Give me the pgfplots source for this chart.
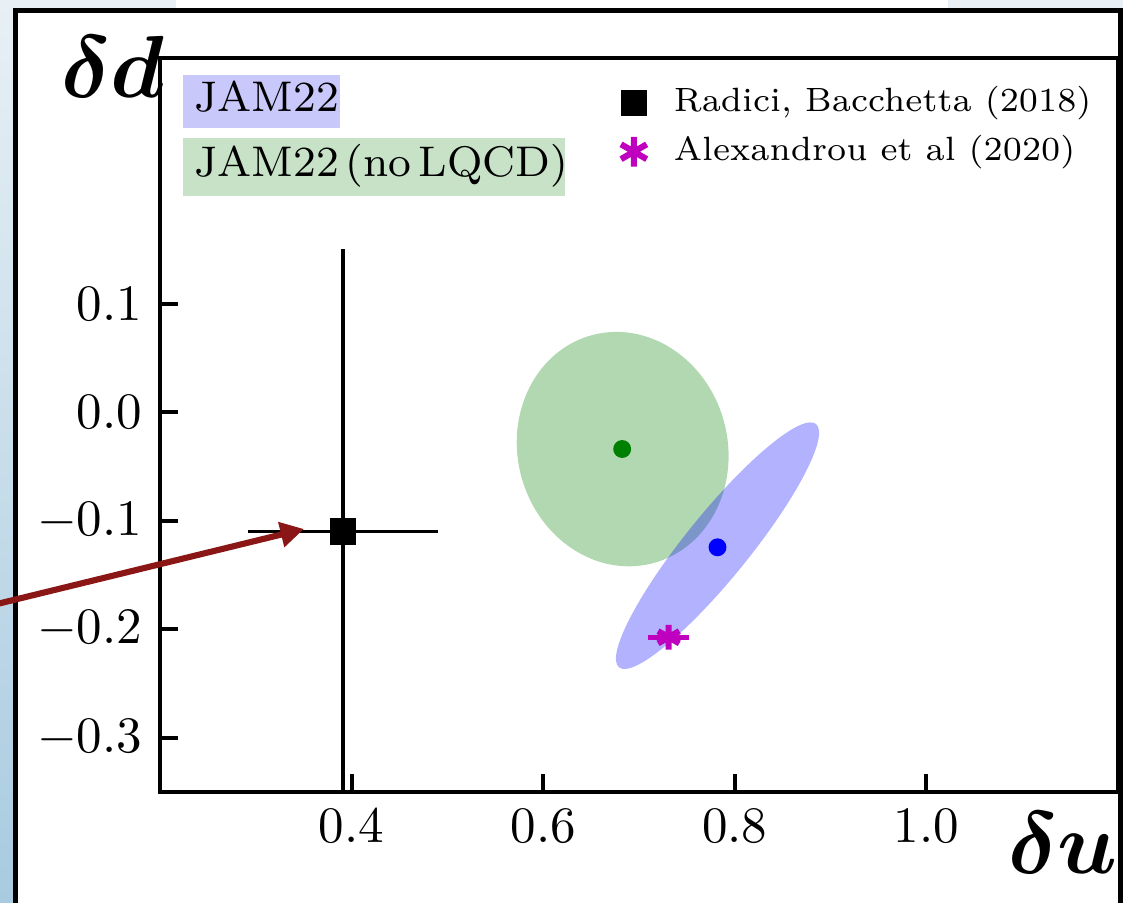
\documentclass[border=0pt]{standalone}
\usepackage{pgfplots}
\usepackage{bm}
\pgfplotsset{compat=1.18}
\usetikzlibrary{arrows.meta}

\definecolor{mplgreen}{RGB}{0,128,0}
\definecolor{mplblue}{RGB}{0,0,255}
\definecolor{mplmag}{RGB}{191,0,191}
\definecolor{arrowred}{RGB}{139,22,22}
\definecolor{bgtop}{RGB}{232,240,245}
\definecolor{bgbot}{RGB}{168,203,224}
\definecolor{jamblue}{RGB}{200,200,251}
\definecolor{jamgreen}{RGB}{200,226,200}

% short legend image for marker-only entries
\pgfplotsset{shortmark/.style={legend image code/.code={%
    \path (0cm,0cm) (0.38cm,0cm);
    \draw[mark repeat=2,mark phase=2,#1]
        plot coordinates {(0cm,0cm)(0.14cm,0cm)(0.38cm,0cm)};}}}

\begin{document}
\begin{tikzpicture}
% slide background and frame (pixel units, y down)
\begin{scope}[x=0.195904pt,y=-0.195904pt,yshift=176.9pt]
  \fill[white] (0,0) rectangle (1123,903);
  \shade[top color=bgtop,bottom color=bgbot] (0,0) rectangle (16,903);
  \fill[bgtop] (0,0) rectangle (176,10);
  \fill[bgtop] (948,0) rectangle (1123,10);
  \draw[line width=1pt] (15.8,10.3) rectangle (1121,930);
\end{scope}

\begin{axis}[
    at={(31.34pt,21.75pt)}, anchor=south west,
    scale only axis, width=187.67pt, height=143.79pt,
    xmin=0.2, xmax=1.2, ymin=-0.35, ymax=0.3265,
    xtick={0.4,0.6,0.8,1.0}, ytick={-0.3,-0.2,-0.1,0,0.1},
    xtick pos=left, ytick pos=left, tick align=inside,
    major tick length=3.5pt,
    tick style={line width=0.8pt, black},
    axis line style={line width=0.8pt},
    /pgf/number format/fixed, /pgf/number format/fixed zerofill,
    /pgf/number format/precision=1,
    legend cell align=left,
    legend style={draw=none, fill=none, at={(0.466,0.975)}, anchor=north west,
        font=\fontsize{6.6}{8}\selectfont, row sep=1.5pt, inner sep=1pt,
        nodes={inner sep=0.8pt}},
]
    % JAM22 confidence ellipses
    \fill[mplgreen, fill opacity=0.3, rotate around={15:(axis cs:0.683,-0.034)}]
        (axis cs:0.683,-0.034) ellipse [x radius=20.57pt, y radius=23.12pt];
    \fill[mplblue, fill opacity=0.3, rotate around={51:(axis cs:0.782,-0.123)}]
        (axis cs:0.782,-0.123) ellipse [x radius=30.66pt, y radius=6.27pt];

    % central values
    \addplot[only marks, mark=*, mark size=1.55pt, color=mplgreen, forget plot]
        coordinates {(0.6825,-0.0339)};
    \addplot[only marks, mark=*, mark size=1.55pt, color=mplblue, forget plot]
        coordinates {(0.782,-0.1245)};

    % Radici, Bacchetta
    \addplot[only marks, mark=square*, mark size=2.4pt, black, shortmark,
        error bars/.cd, x dir=both, x explicit, y dir=both, y explicit,
        error mark=none, error bar style={line width=0.75pt}]
        coordinates {(0.391,-0.110) +- (0.099,0.26)};
    \addlegendentry{Radici, Bacchetta (2018)}

    % Alexandrou et al
    \addplot[only marks, mark=asterisk, mark size=2.4pt, mplmag,
        mark options={line width=1.2pt}, shortmark,
        legend image post style={mark size=2.9pt},
        error bars/.cd, x dir=both, x explicit,
        error mark=none, error bar style={line width=1pt}]
        coordinates {(0.731,-0.2074) +- (0.0217,0)};
    \addlegendentry{Alexandrou et al (2020)}
\end{axis}

% labels, boxes and arrow (pixel units, y down)
\begin{scope}[x=0.195904pt,y=-0.195904pt,yshift=176.9pt]
  \fill[jamblue] (183,75) rectangle (340,128);
  \node[anchor=base west, inner sep=0, font=\fontsize{8.4}{10}\selectfont] at (193,111.7) {JAM22};
  \fill[jamgreen] (183,138) rectangle (565,196);
  \node[anchor=base west, inner sep=0, font=\fontsize{8.4}{10}\selectfont] at (193,176.7) {JAM22\,(no\,LQCD)};
  \node[anchor=base west, inner sep=0, font=\fontsize{16}{18}\selectfont] at (60,98) {$\bm{\delta d}$};
  \node[anchor=base east, inner sep=0, font=\fontsize{16}{18}\selectfont] at (1119,873) {$\bm{\delta u}$};
  \draw[arrowred, line width=1.2pt, -{Triangle[length=4.6pt,width=4.8pt]}] (-5,604.5) -- (304,529);
\end{scope}

% page = the screenshot area
\pgfresetboundingbox
\useasboundingbox (0,0) rectangle (220pt,176.9pt);
\end{tikzpicture}
\end{document}
